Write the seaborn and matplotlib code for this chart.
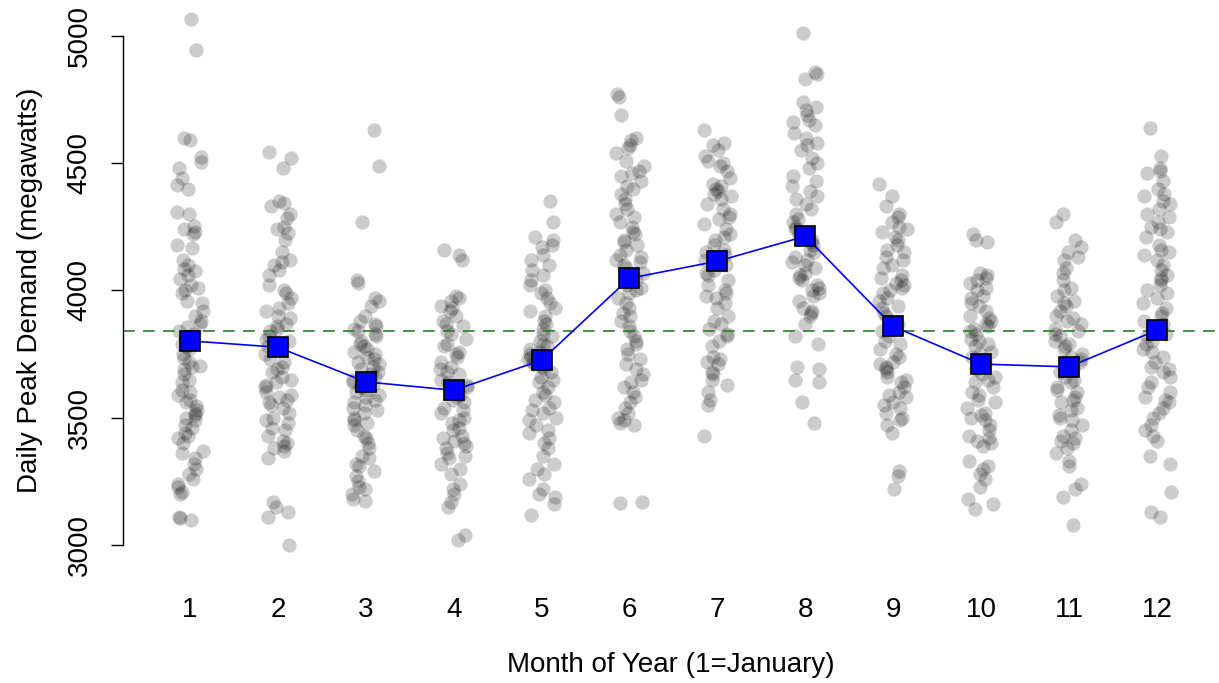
import numpy as np
import pandas as pd
import seaborn as sns
import matplotlib.pyplot as plt

# Demanda pico diaria (MW), por mes
jan = [5065, 4945, 4600, 4590, 4525, 4505, 4480, 4440, 4415, 4400, 4310, 4300, 4255, 4240, 4230, 4220,
       4180, 4165, 4120, 4100, 4085, 4075, 4060, 4045, 4020, 4010, 4000, 3990, 3960, 3950, 3920, 3900,
       3880, 3870, 3855, 3840, 3830, 3810, 3800, 3790, 3780, 3770, 3750, 3735, 3720, 3705, 3700, 3690,
       3670, 3650, 3640, 3610, 3600, 3590, 3570, 3560, 3545, 3530, 3520, 3510, 3500, 3490, 3470, 3460,
       3440, 3430, 3420, 3400, 3370, 3360, 3340, 3320, 3300, 3280, 3260, 3240, 3230, 3210, 3200, 3110,
       3105, 3100]
feb = [4545, 4520, 4480, 4350, 4345, 4330, 4300, 4285, 4250, 4240, 4225, 4200, 4150, 4120, 4110, 4100,
       4080, 4060, 4020, 4000, 3990, 3970, 3950, 3930, 3920, 3900, 3890, 3870, 3860, 3850, 3840, 3820,
       3810, 3800, 3790, 3780, 3770, 3750, 3730, 3720, 3700, 3690, 3680, 3660, 3650, 3640, 3630, 3620,
       3600, 3590, 3580, 3570, 3560, 3550, 3540, 3520, 3500, 3490, 3480, 3460, 3450, 3430, 3410, 3400,
       3390, 3380, 3370, 3340, 3170, 3150, 3130, 3110, 3000]
mar = [4630, 4490, 4270, 4040, 4030, 3970, 3960, 3940, 3900, 3880, 3870, 3860, 3850, 3840, 3830, 3820,
       3800, 3790, 3780, 3770, 3760, 3750, 3740, 3730, 3720, 3710, 3700, 3690, 3680, 3670, 3660, 3650,
       3640, 3630, 3620, 3610, 3600, 3590, 3580, 3570, 3560, 3550, 3540, 3530, 3520, 3500, 3490, 3480,
       3470, 3450, 3430, 3420, 3400, 3380, 3350, 3340, 3320, 3310, 3290, 3270, 3250, 3230, 3220, 3200,
       3180, 3175]
apr = [4160, 4140, 4120, 3980, 3970, 3960, 3940, 3930, 3920, 3900, 3880, 3870, 3860, 3840, 3830, 3810,
       3790, 3780, 3760, 3750, 3740, 3720, 3700, 3690, 3680, 3670, 3650, 3640, 3630, 3620, 3600, 3590,
       3580, 3570, 3560, 3540, 3530, 3520, 3500, 3490, 3480, 3460, 3450, 3430, 3420, 3410, 3400, 3390,
       3380, 3360, 3350, 3340, 3320, 3300, 3280, 3240, 3220, 3200, 3170, 3150, 3040, 3020]
may = [4350, 4270, 4210, 4200, 4180, 4170, 4140, 4120, 4100, 4080, 4060, 4040, 4020, 4000, 3990, 3970,
       3950, 3930, 3920, 3900, 3880, 3870, 3850, 3830, 3820, 3800, 3790, 3780, 3770, 3760, 3750, 3740,
       3730, 3720, 3710, 3700, 3690, 3680, 3660, 3650, 3640, 3620, 3600, 3590, 3570, 3560, 3540, 3530,
       3520, 3500, 3490, 3470, 3450, 3440, 3420, 3400, 3380, 3350, 3320, 3300, 3280, 3260, 3220, 3200,
       3190, 3160, 3120]
jun = [4770, 4760, 4690, 4600, 4590, 4570, 4560, 4540, 4510, 4490, 4470, 4460, 4450, 4430, 4410, 4400,
       4380, 4360, 4340, 4320, 4300, 4290, 4270, 4250, 4230, 4220, 4200, 4190, 4180, 4160, 4140, 4130,
       4120, 4110, 4100, 4090, 4070, 4050, 4040, 4020, 4010, 4000, 3990, 3970, 3950, 3930, 3910, 3900,
       3880, 3860, 3840, 3820, 3800, 3790, 3770, 3750, 3730, 3710, 3690, 3670, 3650, 3640, 3620, 3600,
       3580, 3560, 3540, 3520, 3500, 3490, 3480, 3470, 3170, 3165]
jul = [4630, 4580, 4570, 4550, 4530, 4510, 4500, 4490, 4470, 4440, 4420, 4410, 4400, 4390, 4380, 4370,
       4360, 4340, 4320, 4300, 4290, 4280, 4260, 4240, 4220, 4210, 4200, 4180, 4160, 4150, 4140, 4130,
       4120, 4100, 4080, 4070, 4060, 4040, 4020, 4000, 3990, 3980, 3970, 3950, 3930, 3900, 3880, 3870,
       3850, 3830, 3820, 3800, 3780, 3740, 3730, 3720, 3710, 3680, 3670, 3650, 3630, 3600, 3570, 3550,
       3430]
aug = [5010, 4860, 4850, 4830, 4740, 4720, 4710, 4690, 4670, 4660, 4650, 4620, 4600, 4580, 4570, 4550,
       4520, 4500, 4480, 4450, 4430, 4410, 4390, 4370, 4360, 4340, 4320, 4300, 4280, 4270, 4250, 4240,
       4220, 4200, 4190, 4180, 4160, 4150, 4130, 4120, 4110, 4100, 4090, 4070, 4060, 4050, 4040, 4020,
       4010, 4000, 3990, 3980, 3960, 3930, 3920, 3910, 3900, 3870, 3820, 3790, 3700, 3690, 3650, 3640,
       3560, 3480]
sep = [4420, 4370, 4330, 4300, 4290, 4270, 4250, 4240, 4230, 4210, 4200, 4180, 4160, 4150, 4130, 4120,
       4100, 4090, 4060, 4050, 4040, 4030, 4020, 4010, 4000, 3990, 3970, 3960, 3940, 3930, 3910, 3900,
       3880, 3870, 3860, 3850, 3840, 3820, 3800, 3790, 3770, 3750, 3740, 3720, 3710, 3700, 3690, 3680,
       3660, 3650, 3640, 3620, 3600, 3590, 3580, 3560, 3550, 3540, 3520, 3500, 3490, 3470, 3440, 3290,
       3270, 3220]
oct_ = [4220, 4200, 4190, 4070, 4060, 4050, 4040, 4030, 4010, 4000, 3980, 3970, 3950, 3940, 3920, 3900,
        3890, 3880, 3870, 3860, 3850, 3840, 3830, 3810, 3800, 3790, 3780, 3760, 3750, 3740, 3720, 3700,
        3690, 3670, 3660, 3650, 3640, 3620, 3600, 3590, 3570, 3560, 3540, 3520, 3510, 3500, 3490, 3470,
        3450, 3430, 3420, 3410, 3400, 3390, 3330, 3310, 3300, 3280, 3260, 3230, 3180, 3160, 3140]
nov = [4300, 4270, 4200, 4170, 4150, 4130, 4120, 4090, 4070, 4040, 4010, 4000, 3980, 3960, 3950, 3940,
       3920, 3900, 3890, 3880, 3870, 3850, 3840, 3830, 3820, 3800, 3790, 3780, 3770, 3750, 3740, 3730,
       3720, 3700, 3690, 3680, 3660, 3650, 3640, 3620, 3610, 3600, 3580, 3570, 3560, 3540, 3530, 3510,
       3500, 3490, 3470, 3450, 3430, 3420, 3410, 3400, 3380, 3360, 3330, 3310, 3240, 3220, 3190, 3080]
dec = [4640, 4530, 4480, 4470, 4460, 4430, 4400, 4380, 4370, 4350, 4340, 4320, 4300, 4290, 4270, 4250,
       4240, 4230, 4210, 4180, 4160, 4150, 4140, 4120, 4100, 4080, 4060, 4050, 4040, 4020, 4000, 3990,
       3970, 3950, 3930, 3910, 3900, 3880, 3870, 3850, 3830, 3820, 3800, 3790, 3770, 3760, 3740, 3720,
       3700, 3690, 3680, 3660, 3640, 3620, 3600, 3580, 3570, 3560, 3540, 3520, 3500, 3470, 3450, 3430,
       3410, 3350, 3320, 3210, 3130, 3110]

meses = list(range(1, 13))
medias = [3802, 3777, 3641, 3608, 3726, 4048, 4115, 4213, 3859, 3711, 3700, 3844]
media_total = 3840

datos = [jan, feb, mar, apr, may, jun, jul, aug, sep, oct_, nov, dec]
df = pd.DataFrame({
    'mes': np.concatenate([[m] * len(d) for m, d in zip(meses, datos)]),
    'demanda': np.concatenate(datos),
})

sns.set_style('white')
plt.rcParams['font.family'] = ['Liberation Sans', 'DejaVu Sans']
plt.rcParams['text.color'] = 'black'
plt.rcParams['axes.labelcolor'] = 'black'
plt.rcParams['xtick.color'] = 'black'
plt.rcParams['ytick.color'] = 'black'

fig = plt.figure(figsize=(12.19, 6.83), dpi=100)
ax = fig.add_axes([0.1009, 0.1647, 0.899, 0.820])

np.random.seed(3)
sns.stripplot(data=df, x='mes', y='demanda', native_scale=True, jitter=0.16,
              color='black', alpha=0.2, size=10.3, linewidth=0, ax=ax, zorder=1)
ax.axhline(media_total, color='#2a7d2a', lw=1.2, ls=(0, (7, 5)), zorder=2)
sns.lineplot(x=meses, y=medias, color='blue', lw=1.2, marker='s', markersize=14.5,
             markerfacecolor='blue', markeredgecolor='black', markeredgewidth=1.2,
             ax=ax, zorder=3)

ax.set_xlim(0.238, 12.705)
ax.set_ylim(2900, 5100)
ax.set_xticks(meses)
ax.set_yticks([3000, 3500, 4000, 4500, 5000])
ax.set_yticklabels(['3000', '3500', '4000', '4500', '5000'], rotation=90, va='center')
ax.tick_params(axis='x', length=0, pad=19, labelsize=20)
ax.tick_params(axis='y', length=9, width=1, pad=13, labelsize=20, left=True)

for s in ['top', 'right', 'bottom']:
    ax.spines[s].set_visible(False)
ax.spines['left'].set_bounds(3000, 5000)
ax.spines['left'].set_color('black')
ax.spines['left'].set_linewidth(1)

ax.set_xlabel('Month of Year (1=January)', fontsize=20, labelpad=21)
ax.set_ylabel('Daily Peak Demand (megawatts)', fontsize=20, labelpad=17)

plt.savefig('out.png', dpi=100)
